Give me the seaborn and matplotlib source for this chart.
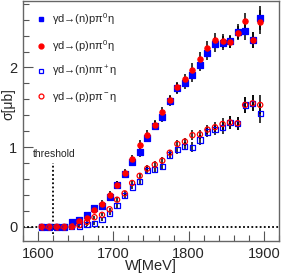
import numpy as np
import pandas as pd
import matplotlib
matplotlib.use("Agg")
import matplotlib.pyplot as plt
from matplotlib.lines import Line2D
import seaborn as sns

# ------------------------------
# Data
# ------------------------------
W = [1605, 1615, 1625, 1635, 1645, 1655, 1665, 1675, 1685, 1695,
     1705, 1715, 1725, 1735, 1745, 1755, 1765, 1775, 1785, 1795,
     1805, 1815, 1825, 1835, 1845, 1855, 1865, 1875, 1885, 1895]

sig_n_p_pi0 = [0, 0, 0, 0, 0.06, 0.08, 0.15, 0.23, 0.26, 0.38,
               0.52, 0.66, 0.81, 0.94, 1.12, 1.27, 1.38, 1.58, 1.74, 1.80,
               1.90, 2.03, 2.18, 2.29, 2.31, 2.33, 2.45, 2.46, 2.34, 2.62]
err_n_p_pi0 = [0.01, 0.01, 0.01, 0.01, 0.03, 0.03, 0.04, 0.04, 0.04, 0.05,
               0.05, 0.05, 0.05, 0.06, 0.06, 0.06, 0.06, 0.06, 0.07, 0.07,
               0.08, 0.08, 0.08, 0.09, 0.09, 0.08, 0.09, 0.11, 0.10, 0.15]

sig_p_n_pi0 = [0, 0, 0, 0, 0.01, 0.07, 0.11, 0.21, 0.29, 0.40,
               0.53, 0.67, 0.85, 1.03, 1.15, 1.28, 1.44, 1.59, 1.75, 1.85,
               1.97, 2.11, 2.25, 2.34, 2.33, 2.32, 2.43, 2.58, 2.34, 2.57]
err_p_n_pi0 = [0.01, 0.01, 0.01, 0.01, 0.03, 0.03, 0.04, 0.04, 0.04, 0.05,
               0.05, 0.05, 0.05, 0.06, 0.06, 0.06, 0.06, 0.06, 0.07, 0.07,
               0.08, 0.08, 0.08, 0.09, 0.09, 0.08, 0.09, 0.11, 0.10, 0.15]

sig_n_n_pip = [0, 0, 0, 0, 0, 0, 0.03, 0.04, 0.09, 0.17,
               0.27, 0.39, 0.50, 0.57, 0.71, 0.72, 0.76, 0.90, 0.97, 1.01,
               1.00, 1.09, 1.19, 1.22, 1.25, 1.31, 1.30, 1.53, 1.55, 1.42]
err_n_n_pip = [0.01, 0.01, 0.01, 0.01, 0.01, 0.01, 0.02, 0.02, 0.02, 0.02,
               0.03, 0.03, 0.03, 0.03, 0.04, 0.04, 0.04, 0.04, 0.05, 0.05,
               0.06, 0.06, 0.06, 0.07, 0.08, 0.08, 0.08, 0.10, 0.10, 0.12]

sig_p_p_pim = [0, 0, 0, 0, 0, 0.02, 0.06, 0.12, 0.15, 0.22,
               0.34, 0.42, 0.55, 0.64, 0.73, 0.78, 0.83, 0.93, 1.04, 1.07,
               1.15, 1.16, 1.22, 1.25, 1.29, 1.31, 1.30, 1.53, 1.55, 1.53]
err_p_p_pim = [0.01, 0.01, 0.01, 0.01, 0.01, 0.01, 0.02, 0.02, 0.02, 0.02,
               0.03, 0.03, 0.03, 0.03, 0.04, 0.04, 0.04, 0.04, 0.05, 0.05,
               0.06, 0.06, 0.06, 0.07, 0.08, 0.08, 0.08, 0.10, 0.10, 0.12]

labels = ["γd→(n)pπ$^0$η", "γd→(p)nπ$^0$η", "γd→(n)nπ$^+$η", "γd→(p)pπ$^-$η"]

threshold = 1620

# ------------------------------
# Style
# ------------------------------
sns.set_theme(style="ticks")
plt.rcParams["font.family"] = ["Liberation Sans", "DejaVu Sans"]
plt.rcParams["mathtext.fontset"] = "custom"
plt.rcParams["mathtext.rm"] = "Liberation Sans"
plt.rcParams["mathtext.it"] = "Liberation Sans"

fig = plt.figure(figsize=(2.83, 2.74), dpi=100)
ax = fig.add_axes([0.081, 0.12, 0.905, 0.875])

series = [
    (sig_n_p_pi0, err_n_p_pi0, "s", "blue", "blue", 16),
    (sig_p_n_pi0, err_p_n_pi0, "o", "red", "red", 14),
    (sig_n_n_pip, err_n_n_pip, "s", "none", "blue", 14),
    (sig_p_p_pim, err_p_p_pim, "o", "none", "red", 14),
]

for vals, errs, mk, fc, ec, sz in series:
    ax.errorbar(W, vals, yerr=errs, fmt="none", ecolor="black", elinewidth=1.1, zorder=2)
for vals, errs, mk, fc, ec, sz in series:
    df = pd.DataFrame({"W": W, "sigma": vals})
    sns.scatterplot(data=df, x="W", y="sigma", marker=mk, s=sz,
                    facecolor=fc, edgecolor=ec, linewidth=0.9, ax=ax, zorder=3)

# zero line and threshold
ax.axhline(0, color="black", ls=(0, (1, 1.3)), lw=1.3, zorder=1)
ax.plot([threshold, threshold], [-0.09, 0.8], color="black", ls=(0, (1, 1.3)), lw=1.3, zorder=1)
ax.text(threshold + 2, 0.91, "threshold", ha="center", va="center", fontsize=7.5)

ax.set_xlim(1580, 1920)
ax.set_ylim(-0.18, 2.83)
ax.set_xticks([1600, 1700, 1800, 1900])
ax.set_xticks(np.arange(1580, 1921, 20), minor=True)
ax.set_yticks([0, 1, 2])
ax.set_yticks(np.arange(0, 2.81, 0.2), minor=True)
ax.tick_params(which="both", direction="in", labelsize=10.5, color="#555555")
ax.tick_params(which="major", length=7, width=0.8, pad=4)
ax.tick_params(which="minor", length=4, width=0.8)
for sp in ax.spines.values():
    sp.set_color("#666666")
    sp.set_linewidth(1.0)

ax.set_xlabel("W[MeV]", fontsize=10.5, labelpad=-1)
ax.set_ylabel("σ[μb]", fontsize=10)
ax.yaxis.set_label_coords(-0.03, 0.57)

handles = [
    Line2D([], [], ls="none", marker="s", ms=3.5, mfc="blue", mec="blue"),
    Line2D([], [], ls="none", marker="o", ms=3.5, mfc="red", mec="red"),
    Line2D([], [], ls="none", marker="s", ms=3.5, mfc="none", mec="blue", mew=0.9),
    Line2D([], [], ls="none", marker="o", ms=3.5, mfc="none", mec="red", mew=0.9),
]
ax.legend(handles, labels, loc="upper left", bbox_to_anchor=(0.0, 1.0), frameon=False,
          fontsize=8, handletextpad=0.2, labelspacing=0.95, borderaxespad=0.5, handlelength=1.5)

fig.savefig("out.png", dpi=100)
